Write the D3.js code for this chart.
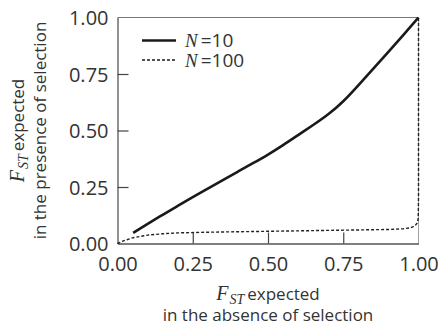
<!DOCTYPE html>
<html>
<head>
<meta charset="utf-8">
<script src="https://cdn.jsdelivr.net/npm/d3@7"></script>
<style>
  html, body { margin: 0; padding: 0; background: #fff; }
  svg { display: block; }
  text { font-family: "Open Sans", "Noto Sans", sans-serif; fill: #333; }
  .serif { font-family: "Liberation Serif", "DejaVu Serif", serif; font-style: italic; }
</style>
</head>
<body>
<svg id="chart" width="438" height="334"></svg>
<script>
// ---- data ----
const xTicks = [0, 0.25, 0.5, 0.75, 1.0];
const yTicks = [0, 0.25, 0.5, 0.75, 1.0];
const tickLabels = ["0.00", "0.25", "0.50", "0.75", "1.00"];

const seriesNames = ["N=10", "N=100"];

const n10X = [0.052, 0.1, 0.15, 0.2, 0.25, 0.3, 0.35, 0.4, 0.45, 0.5, 0.55, 0.6, 0.65, 0.7, 0.75, 0.8, 0.85, 0.9, 0.95, 1.0];
const n10Y = [0.047, 0.087, 0.127, 0.166, 0.205, 0.243, 0.281, 0.318, 0.355, 0.393, 0.435, 0.48, 0.524, 0.570, 0.627, 0.70, 0.774, 0.848, 0.923, 1.0];

const n100X = [0, 0.02, 0.05, 0.1, 0.15, 0.2, 0.3, 0.4, 0.5, 0.6, 0.7, 0.8, 0.9, 0.95, 0.975, 0.988, 0.995, 0.999, 1.0, 1.0];
const n100Y = [0, 0.012, 0.025, 0.037, 0.043, 0.047, 0.05, 0.052, 0.054, 0.056, 0.058, 0.060, 0.062, 0.065, 0.070, 0.078, 0.09, 0.11, 0.2, 1.0];

// ---- layout ----
const svg = d3.select("#chart");
const L = 117.5, R = 418.5, T = 17.5, B = 243.5;
const x = d3.scaleLinear().domain([0, 1]).range([L, R]);
const y = d3.scaleLinear().domain([0, 1]).range([B, T]);

// frame (top and right)
svg.append("line").attr("x1", L).attr("x2", R).attr("y1", T).attr("y2", T)
  .attr("stroke", "#777").attr("stroke-width", 1.2);
svg.append("line").attr("x1", R).attr("x2", R).attr("y1", T).attr("y2", B)
  .attr("stroke", "#888").attr("stroke-width", 0.8);

// axes
const xAxis = d3.axisBottom(x).tickValues(xTicks).tickFormat(d => tickLabels[xTicks.indexOf(d)]).tickSizeInner(-11).tickSizeOuter(0);
const yAxis = d3.axisLeft(y).tickValues(yTicks).tickFormat(d => tickLabels[yTicks.indexOf(d)]).tickSizeInner(-11).tickSizeOuter(0);

const gx = svg.append("g").attr("transform", `translate(0,${B})`).call(xAxis);
const gy = svg.append("g").attr("transform", `translate(${L},0)`).call(yAxis);
[gx, gy].forEach(g => {
  g.select(".domain").attr("stroke", "#555").attr("stroke-width", 1.3);
  g.selectAll(".tick line").attr("stroke", "#444").attr("stroke-width", 1.2);
  g.selectAll(".tick text").style("font-family", "'Open Sans', sans-serif").style("font-size", "20px").attr("fill", "#333");
});
gx.selectAll(".tick line").filter(d => d === 0 || d === 1).remove();
gy.selectAll(".tick line").filter(d => d === 0 || d === 1).remove();
gy.selectAll(".tick text").attr("x", -9).attr("dy", "0.36em");
gx.selectAll(".tick text").attr("y", 27).attr("dy", "0");

// lines
const n10 = n10X.map((v, i) => [v, n10Y[i]]);
const n100 = n100X.map((v, i) => [v, n100Y[i]]);

svg.append("path").datum(n100)
  .attr("d", d3.line().x(d => x(d[0])).y(d => y(d[1])).curve(d3.curveLinear))
  .attr("fill", "none").attr("stroke", "#222").attr("stroke-width", 1.4)
  .attr("stroke-dasharray", "3,2");
svg.append("path").datum(n10)
  .attr("d", d3.line().x(d => x(d[0])).y(d => y(d[1])).curve(d3.curveBasis))
  .attr("fill", "none").attr("stroke", "#1a1a1a").attr("stroke-width", 2.6);

// legend
const legend = svg.append("g");
const legItems = [
  { name: seriesNames[0], dash: null, w: 2.6, yy: 40.5 },
  { name: seriesNames[1], dash: "3,2", w: 1.4, yy: 60 }
];
legItems.forEach(it => {
  legend.append("line").attr("x1", 142).attr("x2", 176).attr("y1", it.yy).attr("y2", it.yy)
    .attr("stroke", "#1a1a1a").attr("stroke-width", it.w).attr("stroke-dasharray", it.dash);
  const parts = it.name.split("=");
  const t = legend.append("text").attr("x", 185).attr("y", it.yy + 6.5).style("font-size", "19px");
  t.append("tspan").attr("class", "serif").style("font-size", "19px").text(parts[0]);
  t.append("tspan").attr("dx", 3).text("=" + parts[1]);
});

// x axis title
const cx = (L + R) / 2;
const xt1 = svg.append("text").attr("x", cx).attr("y", 300).attr("text-anchor", "middle").style("font-size", "17px");
xt1.append("tspan").attr("class", "serif").style("font-size", "20px").text("F");
xt1.append("tspan").attr("class", "serif").style("font-size", "14px").attr("dx", 1).attr("dy", 4).text("ST");
xt1.append("tspan").attr("dy", -4).attr("dx", 3).text("expected");
svg.append("text").attr("x", cx).attr("y", 321).attr("text-anchor", "middle").style("font-size", "17px")
  .text("in the absence of selection");

// y axis title
const cy = (T + B) / 2;
const yt1 = svg.append("text").attr("transform", `translate(24,${cy}) rotate(-90)`).attr("text-anchor", "middle").style("font-size", "17px");
yt1.append("tspan").attr("class", "serif").style("font-size", "20px").text("F");
yt1.append("tspan").attr("class", "serif").style("font-size", "14px").attr("dx", 1).attr("dy", 4).text("ST");
yt1.append("tspan").attr("dy", -4).attr("dx", 3).text("expected");
svg.append("text").attr("transform", `translate(46,${cy}) rotate(-90)`).attr("text-anchor", "middle").style("font-size", "17px")
  .text("in the presence of selection");
</script>
</body>
</html>
